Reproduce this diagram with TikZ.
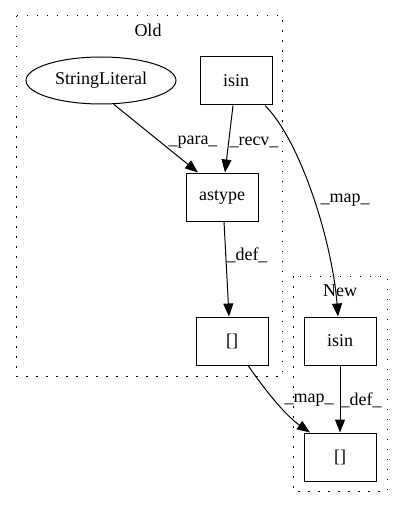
\documentclass[tikz,border=0pt]{standalone}
\usepackage{fontspec}
\setmainfont{Liberation Serif}
\usetikzlibrary{arrows.meta,shapes.geometric}
\tikzset{
  opbox/.style={draw, line width=1pt, minimum width=72pt, minimum height=48pt, inner sep=0pt},
  litnode/.style={draw, line width=1pt, ellipse, minimum width=150pt, minimum height=47pt, inner sep=0pt},
  cluster/.style={line width=1pt, dash pattern=on 1.5pt off 8.5pt},
  flow/.style={line width=1pt, -{Triangle[length=13pt,width=10pt]}},
  elabel/.style={inner sep=1pt}
}
\begin{document}
\begin{tikzpicture}[x=1pt, y=-1pt, font=\fontsize{18pt}{20pt}\selectfont]
  \useasboundingbox (0,0) rectangle (403,508);

  % clusters
  \draw[cluster] (16,16) rectangle (282,376);
  \node (oldlabel) at (148,30) {Old};
  \draw[cluster] (293,276) rectangle (387,491);
  \node (newlabel) at (340,291) {New};

  % nodes of the old version
  \node[litnode] (strlit) at (101,80.5) {StringLiteral};
  \node[opbox] (isinold) at (236,81) {isin};
  \node[opbox] (astype) at (222,197) {astype};
  \node[opbox] (idxold) at (232,341) {[]};

  % nodes of the new version
  \node[opbox] (isinnew) at (340,341) {isin};
  \node[opbox] (idxnew) at (340,457) {[]};

  % edges
  \draw[flow] (strlit.-62) -- ([xshift=-24pt]astype.north);
  \draw[flow] ([xshift=-3pt]isinold.south) -- ([xshift=3pt]astype.north);
  \draw[flow] ([xshift=29pt]isinold.south) .. controls (300,140) and (332,240) .. ([xshift=-2pt]isinnew.north);
  \draw[flow] ([xshift=2pt]astype.south) -- ([xshift=-3pt]idxold.north);
  \draw[flow] ([xshift=16pt]idxold.south) .. controls (265,390) and (285,415) .. ([xshift=-30pt]idxnew.north);
  \draw[flow] (isinnew) -- (idxnew);

  % edge labels
  \node[elabel] (lpara) at (193,142) {\_para\_};
  \node[elabel] (lrecv) at (254,142) {\_recv\_};
  \node[elabel] (lmapa) at (345,200) {\_map\_};
  \node[elabel] (ldefa) at (247,255) {\_def\_};
  \node[elabel] (lmapb) at (309,400) {\_map\_};
  \node[elabel] (ldefb) at (361,400) {\_def\_};
\end{tikzpicture}
\end{document}
